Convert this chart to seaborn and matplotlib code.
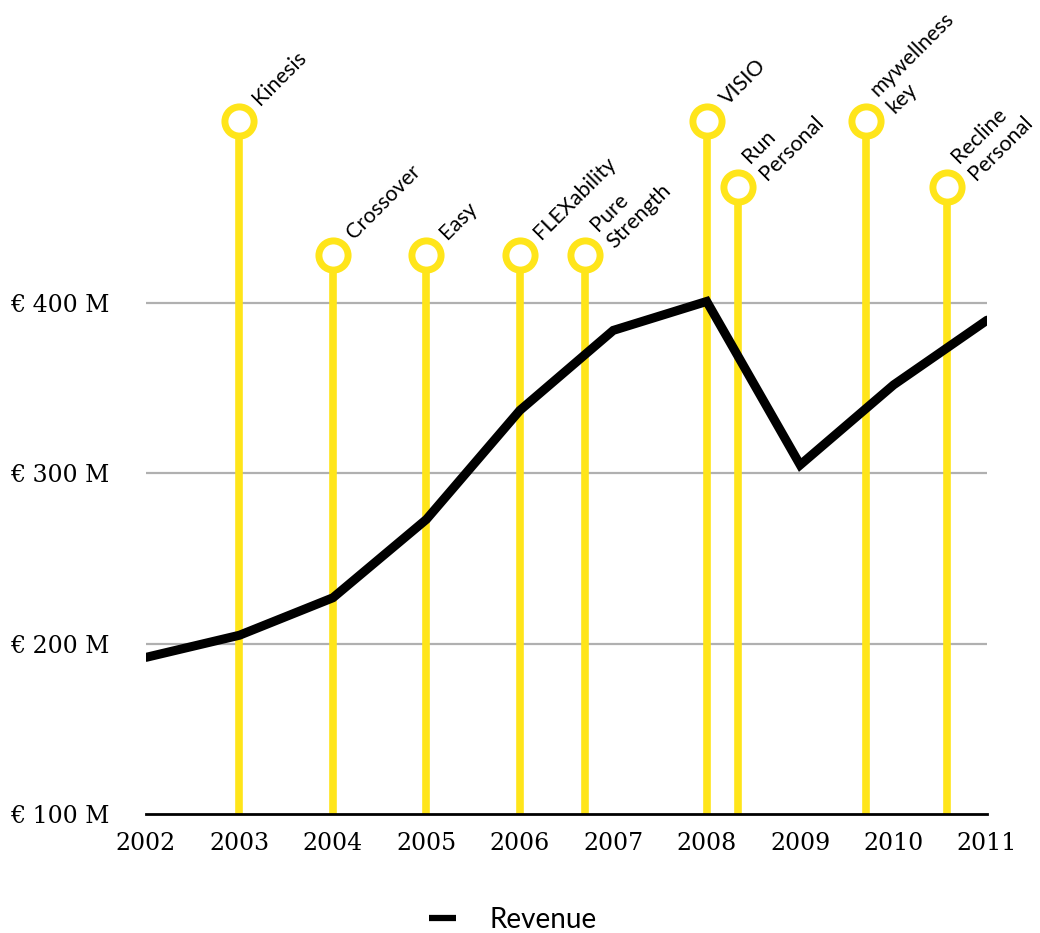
import matplotlib
matplotlib.use("Agg")
import matplotlib.pyplot as plt
import seaborn as sns
import pandas as pd

years = [2002, 2003, 2004, 2005, 2006, 2007, 2008, 2009, 2010, 2011]
revenue = [192, 205, 227, 273, 337, 384, 401, 305, 352, 390]

products = ["Kinesis", "Crossover", "Easy", "FLEXability", "Pure\nStrength",
            "VISIO", "Run\nPersonal", "mywellness\nkey", "Recline\nPersonal"]
launch_year = [2003.0, 2004.0, 2005.0, 2006.0, 2006.7, 2008.0, 2008.33, 2009.7, 2010.57]
marker_level = [507, 428, 428, 428, 428, 507, 468, 507, 468]

ytick_vals = [100, 200, 300, 400]
ytick_labels = ["€ 100 M", "€ 200 M", "€ 300 M", "€ 400 M"]

YELLOW = "#FFE51A"

sns.set_theme(style="white")
plt.rcParams['font.family'] = ['Lato', 'DejaVu Sans']
plt.rcParams['text.color'] = 'black'
plt.rcParams['xtick.color'] = 'black'
plt.rcParams['ytick.color'] = 'black'

fig = plt.figure(figsize=(10.4, 9.33), dpi=100)
ax = fig.add_axes([0.1404, 0.1275, 0.8087, 0.8725])

df = pd.DataFrame({"year": years, "Revenue": revenue})

# grid lines
for v in ytick_vals[1:]:
    ax.axhline(v, color="#b0b0b0", lw=1.6, zorder=1)

# product stems and circles
ax.vlines(launch_year, 100, marker_level, color=YELLOW, lw=5.5, zorder=2)

# revenue line
sns.lineplot(data=df, x="year", y="Revenue", color="black", lw=6.5, ax=ax,
             label="Revenue", zorder=3, solid_joinstyle="miter")

ax.scatter(launch_year, marker_level, s=21**2, facecolor="white", edgecolor=YELLOW,
           linewidth=5, zorder=4, clip_on=False)

for name, x, y in zip(products, launch_year, marker_level):
    ax.annotate(name, (x, y), xytext=(12, 14), textcoords="offset points",
                rotation=45, rotation_mode="anchor", ha="left", va="center",
                fontsize=15.5, linespacing=1.25, color="black",
                annotation_clip=False)

ax.set_xlim(2002, 2011)
ax.set_ylim(100, 578)
ax.set_xticks(years)
ax.set_xticklabels([str(y) for y in years], family="DejaVu Serif", fontsize=17)
ax.set_yticks(ytick_vals)
ax.set_yticklabels(ytick_labels, family="DejaVu Serif", fontsize=17)
ax.tick_params(axis="y", length=0, pad=26, labelcolor="black")
ax.tick_params(axis="x", length=0, pad=13, labelcolor="black")
ax.set_xlabel("")
ax.set_ylabel("")

for s in ["top", "right", "left"]:
    ax.spines[s].set_visible(False)
ax.spines["bottom"].set_color("black")
ax.spines["bottom"].set_linewidth(2)
ax.spines["bottom"].set_zorder(5)

leg = ax.legend(loc="center", bbox_to_anchor=(0.436, -0.130), frameon=False,
                fontsize=20, handlelength=1.0, handletextpad=1.2)
for h in leg.get_lines():
    h.set_linewidth(4.5)
    h.set_solid_capstyle("butt")
for t in leg.get_texts():
    t.set_color("black")

fig.savefig("out.png", dpi=100)
